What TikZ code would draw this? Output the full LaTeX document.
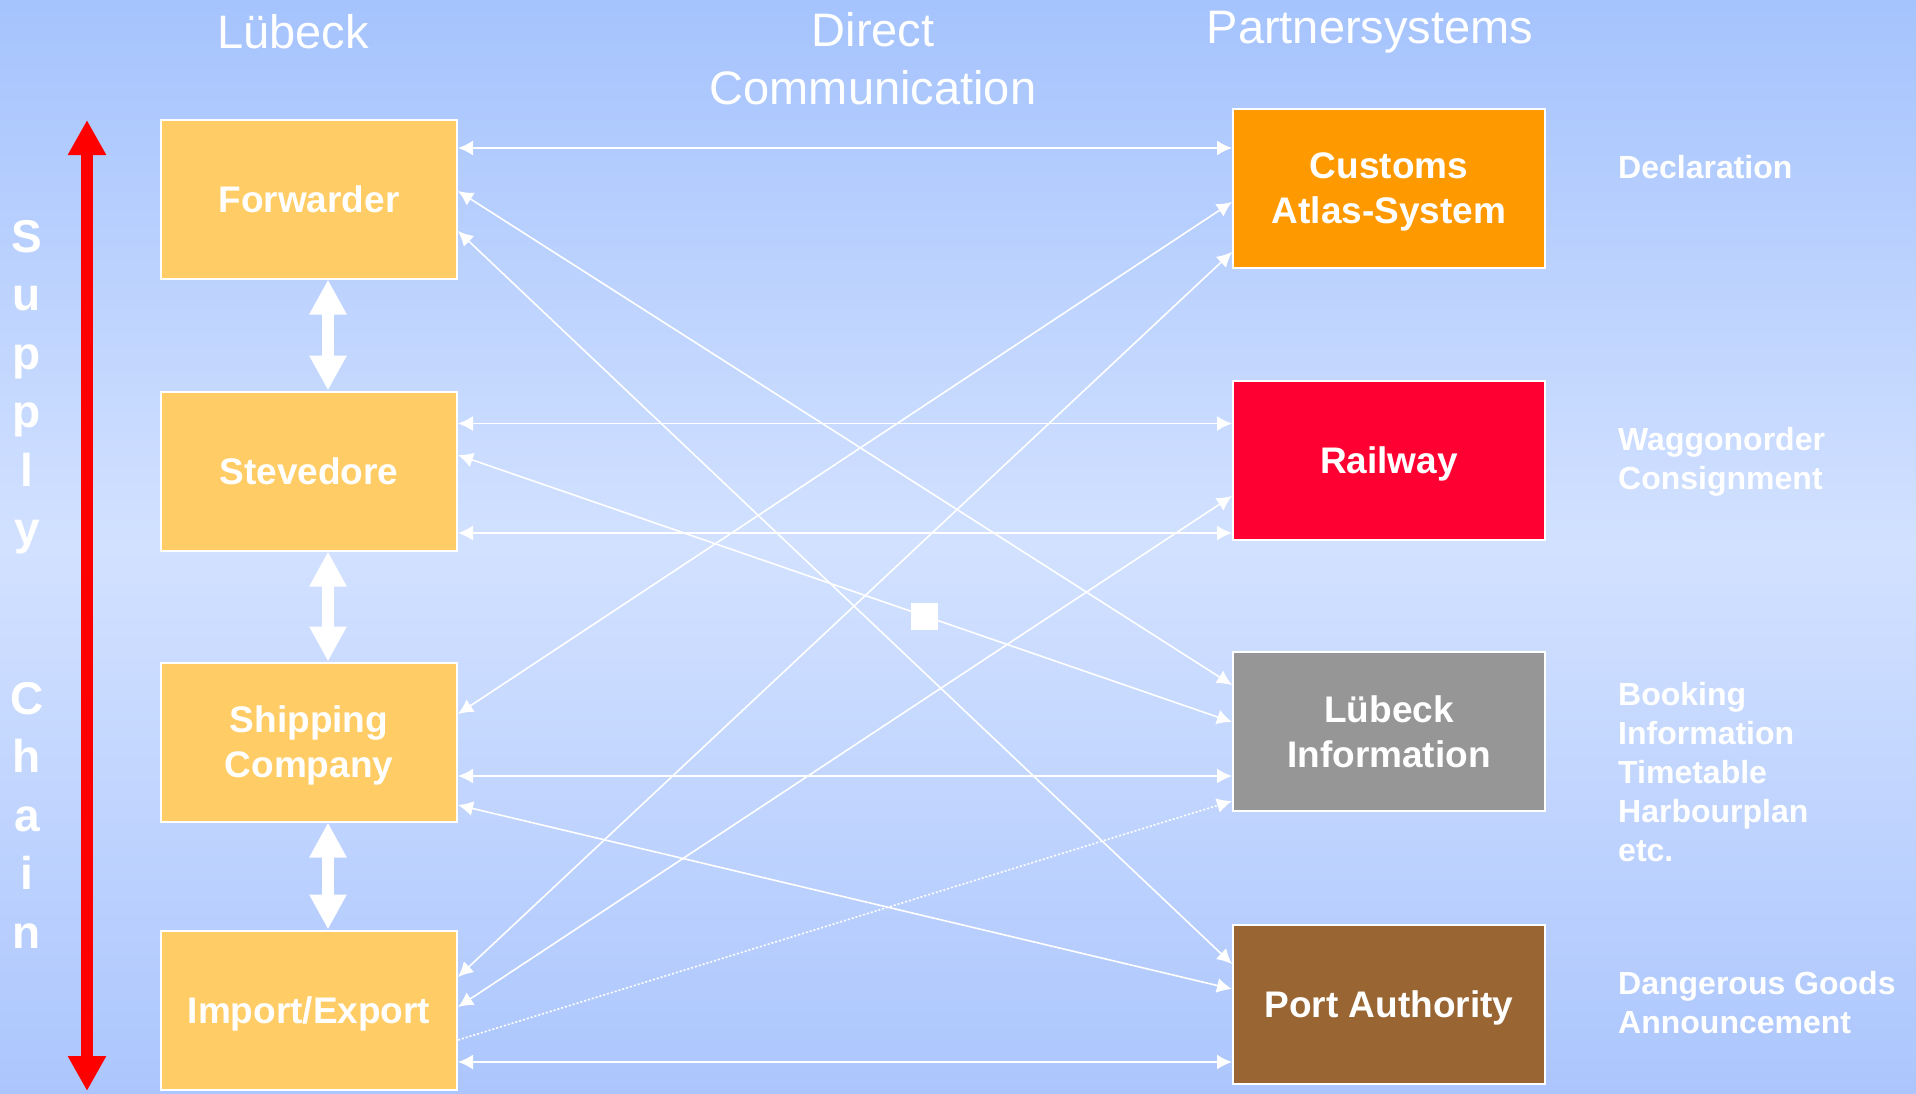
\documentclass[tikz,border=0pt]{standalone}
\usepackage{fontspec}
\setmainfont{Liberation Sans}
\usetikzlibrary{arrows.meta}

\definecolor{bgtop}{RGB}{165,195,253}
\definecolor{bgmid}{RGB}{210,225,255}
\definecolor{bgbot}{RGB}{172,198,253}
\definecolor{lubeckbox}{RGB}{255,204,102}
\definecolor{customsbox}{RGB}{255,153,0}
\definecolor{railbox}{RGB}{255,0,51}
\definecolor{infobox}{RGB}{150,150,150}
\definecolor{portbox}{RGB}{153,102,51}

\tikzset{
  actor/.style={draw=white, line width=2pt, fill=lubeckbox, text=white,
    font=\fontsize{37}{45}\selectfont\bfseries, align=center, text depth=0pt,
    minimum width=296pt, minimum height=159pt, inner sep=0pt},
  partner/.style={actor, fill=#1, minimum width=312pt},
  heading/.style={text=white, font=\fontsize{47}{58}\selectfont, align=center},
  service/.style={text=white, font=\fontsize{32}{39}\selectfont\bfseries,
    align=left, anchor=west, text depth=0pt, inner sep=0pt},
  chainletter/.style={text=white, font=\fontsize{46}{46}\selectfont\bfseries, anchor=base},
  link/.style={white, line width=1.6pt,
    {Latex[length=15pt,width=15pt]}-{Latex[length=15pt,width=15pt]}},
  chainlink/.style={white, line width=12pt,
    {Triangle[length=35pt,width=35pt]}-{Triangle[length=35pt,width=35pt]}},
  gatebox/.style={fill=white, minimum size=27pt, inner sep=0pt}
}

\begin{document}
\begin{tikzpicture}[x=1pt,y=-1pt]
\shade[top color=bgtop, bottom color=bgbot, middle color=bgmid] (0,0) rectangle (1916,1093);
\useasboundingbox (0,0) rectangle (1916,1093);

% column headings
\node[heading, anchor=base] (hluebeck) at (293,48) {Lübeck};
\node[heading] (hdirect) at (873,59) {Direct\\Communication};
\node[heading, anchor=base] (hpartner) at (1370,43) {Partnersystems};

% supply chain
\foreach \c/\y [count=\i] in {S/252,u/310.5,p/369,p/427.5,l/486,y/544.5,C/714,h/772.5,a/831,i/889.5,n/948}
  \node[chainletter] (sc\i) at (27,\y) {\c};
\coordinate (chaintop) at (87,120);
\coordinate (chainbot) at (87,1091);
\draw[red, line width=12.5pt, {Triangle[length=35pt,width=36pt]}-{Triangle[length=35pt,width=36pt]}]
  (chaintop) -- (chainbot);

% Luebeck side
\node[actor] (fw) at (309,199) {Forwarder};
\node[actor] (sv) at (309,471) {Stevedore};
\node[actor] (sc) at (309,742) {Shipping\\Company};
\node[actor] (ie) at (309,1010) {Import/Export};

\foreach \a/\b in {fw/sv,sv/sc,sc/ie}
  \draw[chainlink] ([xshift=19pt]\a.south) -- ([xshift=19pt]\b.north);

% partner systems
\node[partner=customsbox] (cu) at (1389,188.5) {Customs\\Atlas-System};
\node[partner=railbox] (rw) at (1389,460) {Railway};
\node[partner=infobox] (li) at (1389,731.5) {Lübeck\\Information};
\node[partner=portbox] (pa) at (1389,1004.5) {Port Authority};

\node[service] (tdecl) at (1618,167) {Declaration};
\node[service] (twagg) at (1618,458) {Waggonorder\\Consignment};
\node[service] (tbook) at (1618,771.5) {Booking\\Information\\Timetable\\Harbourplan\\etc.};
\node[service] (tdang) at (1618,1002) {Dangerous Goods\\Announcement};

% direct communication
\foreach \a/\ya/\b/\yb in {fw/29.5/cu/40, fw/72.5/li/34, fw/112.5/pa/40,
    sv/33/rw/44, sv/142.5/rw/153.5,
    sc/52.5/cu/94, sc/114.5/li/125, sc/143.5/pa/65,
    ie/47.5/cu/144, ie/77.5/rw/116.5, ie/132.5/pa/138}
  \draw[link] ([yshift=-\ya pt]\a.north east) -- ([yshift=-\yb pt]\b.north west);
\draw[link] ([yshift=-64.5pt]sv.north east) -- node[gatebox, pos=0.603] (gate) {}
  ([yshift=-71pt]li.north west);
\draw[link, -{Latex[length=15pt,width=15pt]}, dash pattern=on 2pt off 2pt]
  ([yshift=-110.5pt]ie.north east) -- ([yshift=-150pt]li.north west);
\end{tikzpicture}
\end{document}
